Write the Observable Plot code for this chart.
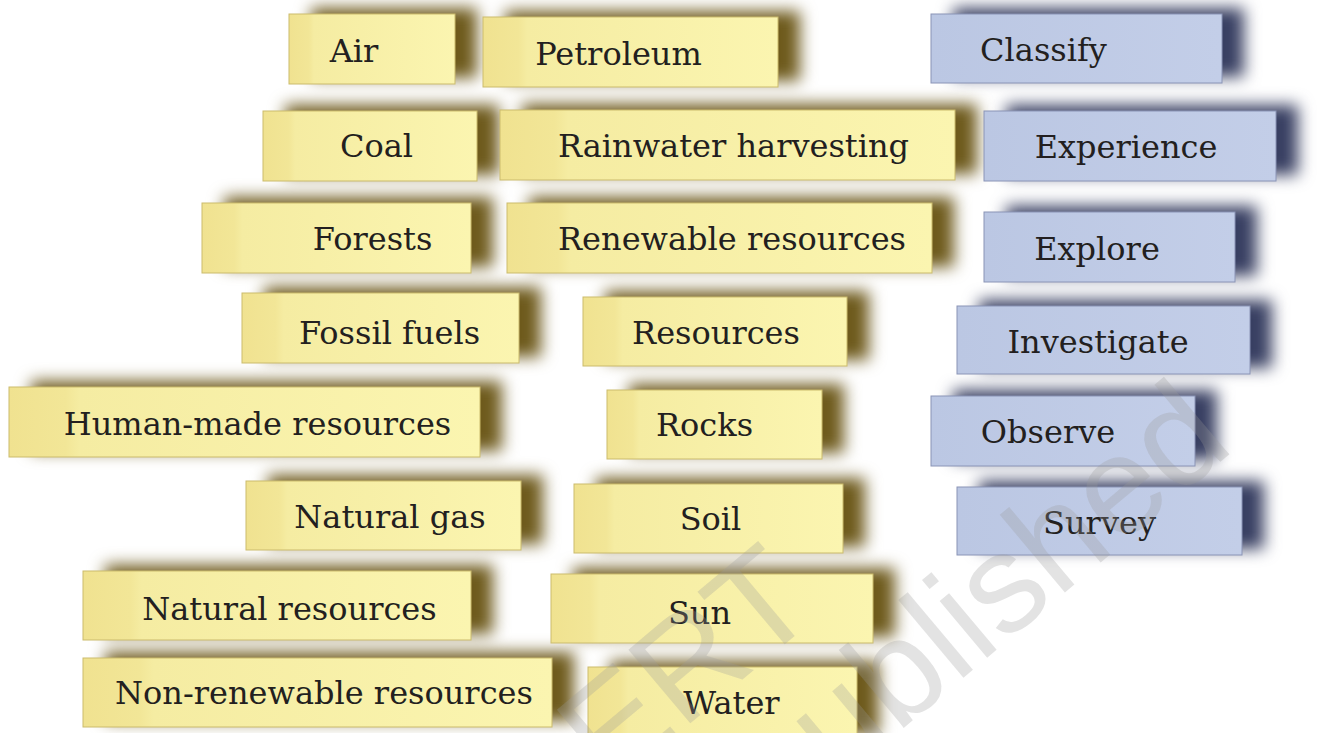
<!DOCTYPE html>
<html><head><meta charset="utf-8">
<script src="https://cdn.jsdelivr.net/npm/d3@7"></script>
<script src="https://cdn.jsdelivr.net/npm/@observablehq/plot@0.6"></script>
<style>html,body{margin:0;padding:0;background:#fff;overflow:hidden}svg{display:block}</style>
</head><body><div id="chart"></div>
<script>
// Words on the sticky notes
const labels = ["Air","Petroleum","Classify","Coal","Rainwater harvesting","Experience","Forests","Renewable resources","Explore","Fossil fuels","Resources","Investigate","Human-made resources","Rocks","Observe","Natural gas","Soil","Survey","Natural resources","Sun","Non-renewable resources","Water"];
// "term" = yellow note, "action" = blue note
const kinds = ["term","term","action","term","term","action","term","term","action","term","term","action","term","term","action","term","term","action","term","term","term","term"];
// Note extents (picture units)
const noteX1 = [289,483,931,263,500,984,202,507,984,242,583,957,9,607,931,246,574,957,83,551,83,588];
const noteX2 = [455,778,1222,477,955,1276,471,932,1235,519,847,1250,480,822,1195,521,843,1242,471,873,552,857];
const noteY1 = [14,17,14,111,110,111,203,203,212,293,297,306,387,390,396,481,484,487,571,574,658,667];
const noteY2 = [84,87,83,181,180,181,273,273,282,363,366,374,457,459,466,550,553,555,640,643,727,740];
// Label centres
const labelX = [353.5,618,1043,376,733,1125.5,372,731.5,1096.5,389,715.5,1097.5,257,704,1047.5,389.5,710,1099,289,699,323.5,731];
const labelY = [49.5,52.5,49,145,145,146,238,238,247.5,332,332,341,422.5,424,430.5,516,518,522,608,612,692,702];
// Watermark
const watermarkText = ["© NCERT","not to be republished"];
const watermarkX = [822,1236];
const watermarkY = [612,448];

const notes = labels.map((label, i) => ({label, kind: kinds[i], x1: noteX1[i], x2: noteX2[i], y1: noteY1[i], y2: noteY2[i], tx: labelX[i], ty: labelY[i]}));
const terms = notes.filter(d => d.kind === "term");
const actions = notes.filter(d => d.kind === "action");
const watermark = watermarkText.map((t, i) => ({t, x: watermarkX[i], y: watermarkY[i]}));

const chart = Plot.plot({
  width: 1323, height: 733, margin: 0,
  x: {domain: [0, 1323], range: [0, 1323], axis: null},
  y: {domain: [0, 733], range: [0, 733], axis: null},
  style: {background: "#fff", overflow: "hidden"},
  marks: [
    Plot.rect(terms, {x1: "x1", x2: "x2", y1: "y1", y2: "y2", fill: "#6e5a1c", dx: 22, dy: -6, imageFilter: "blur(8px)"}),
    Plot.rect(actions, {x1: "x1", x2: "x2", y1: "y1", y2: "y2", fill: "#383f62", dx: 22, dy: -6, imageFilter: "blur(8px)"}),
    Plot.rect(terms, {x1: "x1", x2: "x2", y1: "y1", y2: "y2", fill: "url(#gy)", stroke: "#cbbb6c", strokeWidth: 1}),
    Plot.rect(actions, {x1: "x1", x2: "x2", y1: "y1", y2: "y2", fill: "url(#gb)", stroke: "#8a94b6", strokeWidth: 1}),
    Plot.text(notes, {x: "tx", y: "ty", text: "label", fill: "#231f20", fontFamily: "DejaVu Serif", fontSize: 32, textAnchor: "middle", lineAnchor: "middle", dy: 1.5}),
    Plot.text(watermark, {x: "x", y: "y", text: "t", fill: "#9a9a9a", fillOpacity: 0.28, fontFamily: "Liberation Sans", fontSize: 140, textAnchor: "end", lineAnchor: "bottom", rotate: -40})
  ]
});

d3.select(chart).insert("defs", ":first-child").html(`
  <linearGradient id="gy" x1="0" y1="0" x2="1" y2="0">
    <stop offset="0" stop-color="#f0e290"/>
    <stop offset="0.12" stop-color="#f2e697"/>
    <stop offset="0.15" stop-color="#f5eca2"/>
    <stop offset="1" stop-color="#fbf5b0"/>
  </linearGradient>
  <linearGradient id="gb" x1="0" y1="0" x2="1" y2="0">
    <stop offset="0" stop-color="#bbc7e3"/>
    <stop offset="1" stop-color="#c3cee8"/>
  </linearGradient>`);
document.getElementById("chart").appendChild(chart);
</script>
</body></html>
